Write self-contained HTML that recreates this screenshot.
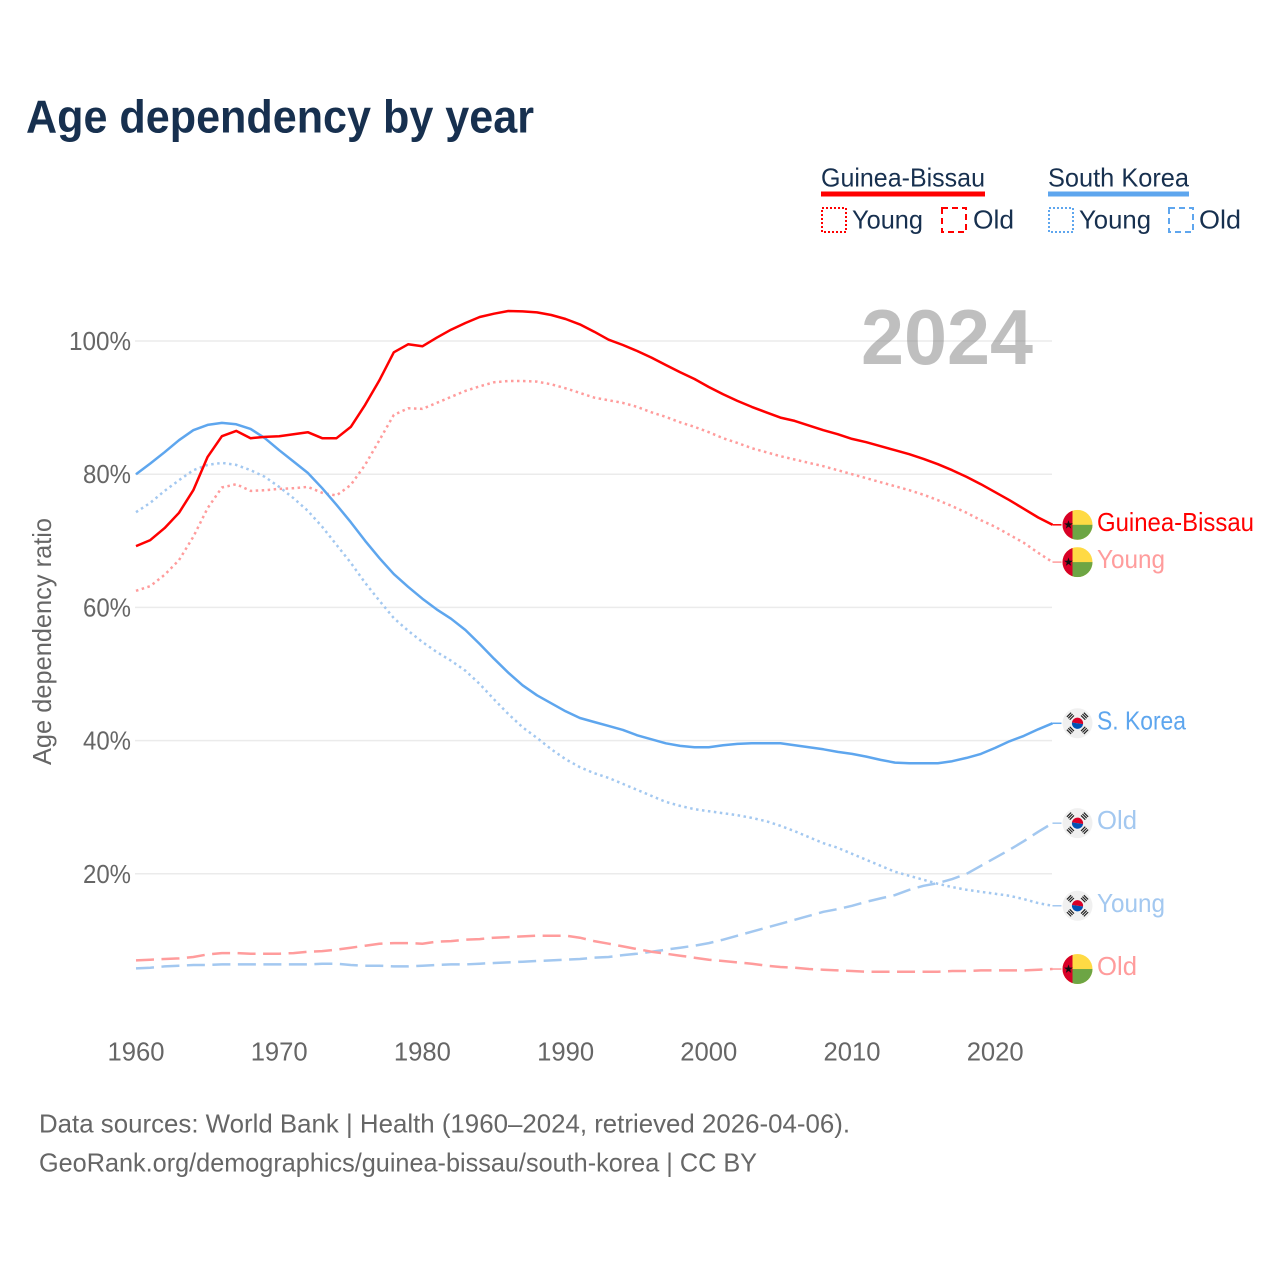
<!DOCTYPE html>
<html lang="en">
<head>
<meta charset="utf-8">
<title>Age dependency by year</title>
<style>
html,body{margin:0;padding:0;background:#fff;}
svg{display:block;font-family:"Liberation Sans",sans-serif;}
</style>
</head>
<body>
<svg id="chart" xmlns="http://www.w3.org/2000/svg" width="1280" height="1280" viewBox="0 0 1280 1280">
  <defs>
    <clipPath id="flag-clip"><circle cx="0" cy="0" r="15"/></clipPath>
    <g id="flag-gb">
      <g clip-path="url(#flag-clip)">
        <rect x="-15" y="-15" width="30" height="30" fill="#ffda44"/>
        <rect x="-5" y="0" width="20" height="15" fill="#6da544"/>
        <rect x="-15" y="-15" width="10" height="30" fill="#d80027"/>
      </g>
      <polygon points="-9,-4.6 -7.9,-1.4 -4.6,-1.4 -7.3,0.6 -6.3,3.8 -9,1.8 -11.7,3.8 -10.7,0.6 -13.4,-1.4 -10.1,-1.4" fill="#111"/>
    </g>
    <g id="trigram"><rect x="-3" y="-12.6" width="6" height="1.2"/><rect x="-3" y="-10.6" width="6" height="1.2"/><rect x="-3" y="-8.6" width="6" height="1.2"/></g>
    <g id="flag-kr">
      <circle r="15" fill="#f0f0f0"/>
      <g transform="rotate(8)">
        <path d="M-5.6,0A5.6,5.6 0 0 1 5.6,0Z" fill="#d80027"/>
        <path d="M-5.6,0A5.6,5.6 0 0 0 5.6,0Z" fill="#0052b4"/>
      </g>
      <g fill="#222">
        <use href="#trigram" transform="rotate(-45)"/>
        <use href="#trigram" transform="rotate(45)"/>
        <use href="#trigram" transform="rotate(135)"/>
        <use href="#trigram" transform="rotate(225)"/>
      </g>
    </g>
  </defs>

  <rect x="0" y="0" width="1280" height="1280" fill="#ffffff"/>

  <text x="26" y="132.5" font-size="46" font-weight="700" fill="#17304f" textLength="508" lengthAdjust="spacingAndGlyphs">Age dependency by year</text>

  <g font-size="26" fill="#17304f">
    <text x="821" y="186.5" textLength="164" lengthAdjust="spacingAndGlyphs">Guinea-Bissau</text>
    <rect x="821" y="191.5" width="164" height="5" fill="#ff0000"/>
    <rect x="822" y="208" width="24" height="24" fill="none" stroke="#ff0000" stroke-width="2" stroke-dasharray="2 2"/>
    <text x="852" y="228.5" textLength="71" lengthAdjust="spacingAndGlyphs">Young</text>
    <rect x="942" y="208" width="24" height="24" fill="none" stroke="#ff0000" stroke-width="2" stroke-dasharray="6 4"/>
    <text x="973" y="228.5" textLength="41" lengthAdjust="spacingAndGlyphs">Old</text>
    <text x="1048" y="186.5" textLength="141" lengthAdjust="spacingAndGlyphs">South Korea</text>
    <rect x="1048" y="191.5" width="141" height="5" fill="#5ea6ee"/>
    <rect x="1049" y="208" width="24" height="24" fill="none" stroke="#5ea6ee" stroke-width="2" stroke-dasharray="2 2"/>
    <text x="1079" y="228.5" textLength="72" lengthAdjust="spacingAndGlyphs">Young</text>
    <rect x="1169" y="208" width="24" height="24" fill="none" stroke="#5ea6ee" stroke-width="2" stroke-dasharray="6 4"/>
    <text x="1199" y="228.5" textLength="42" lengthAdjust="spacingAndGlyphs">Old</text>
  </g>

  <g id="grid"></g>
  <text x="861" y="364" font-size="78" font-weight="700" fill="#808080" fill-opacity="0.5" textLength="172" lengthAdjust="spacingAndGlyphs">2024</text>
  <g id="y-axis"></g>
  <g id="x-axis"></g>
  <text transform="translate(51,765) rotate(-90)" font-size="26" fill="#666666" textLength="247" lengthAdjust="spacingAndGlyphs">Age dependency ratio</text>
  <g id="series"></g>
  <g id="end-labels"></g>

  <g font-size="26" fill="#666666">
    <text x="39" y="1132.5" textLength="811" lengthAdjust="spacingAndGlyphs">Data sources: World Bank | Health (1960–2024, retrieved 2026-04-06).</text>
    <text x="39" y="1171.5" textLength="718" lengthAdjust="spacingAndGlyphs">GeoRank.org/demographics/guinea-bissau/south-korea | CC BY</text>
  </g>
</svg>

<script>
const years = [1960,1961,1962,1963,1964,1965,1966,1967,1968,1969,1970,1971,1972,1973,1974,1975,1976,1977,1978,1979,1980,1981,1982,1983,1984,1985,1986,1987,1988,1989,1990,1991,1992,1993,1994,1995,1996,1997,1998,1999,2000,2001,2002,2003,2004,2005,2006,2007,2008,2009,2010,2011,2012,2013,2014,2015,2016,2017,2018,2019,2020,2021,2022,2023,2024];

const gbTotal = [69.2,70.1,71.9,74.2,77.6,82.6,85.7,86.5,85.4,85.6,85.7,86.0,86.3,85.4,85.4,87.1,90.4,94.1,98.3,99.5,99.2,100.5,101.7,102.7,103.6,104.1,104.5,104.45,104.3,103.9,103.3,102.5,101.4,100.2,99.4,98.5,97.5,96.4,95.3,94.3,93.1,92.0,91.0,90.1,89.3,88.5,88.0,87.3,86.6,86.0,85.3,84.8,84.2,83.6,83.0,82.3,81.5,80.6,79.6,78.5,77.3,76.1,74.8,73.5,72.4];
const gbYoung = [62.5,63.2,64.9,67.1,70.6,74.9,78.0,78.5,77.5,77.6,77.8,77.9,78.1,77.2,76.8,78.4,81.4,85.1,88.9,89.9,89.8,90.7,91.6,92.5,93.2,93.8,94.0,94.0,93.9,93.5,92.9,92.2,91.5,91.1,90.7,90.1,89.3,88.6,87.8,87.1,86.3,85.4,84.7,83.9,83.3,82.7,82.2,81.7,81.2,80.6,80.0,79.4,78.8,78.2,77.6,76.9,76.1,75.2,74.2,73.1,72.1,70.9,69.7,68.2,66.8];
const gbOld = [7.0,7.1,7.2,7.3,7.5,7.9,8.1,8.1,8.0,8.0,8.0,8.1,8.3,8.4,8.6,8.9,9.2,9.5,9.6,9.6,9.5,9.8,9.9,10.1,10.2,10.4,10.5,10.6,10.7,10.7,10.7,10.4,9.9,9.5,9.1,8.7,8.3,8.0,7.7,7.4,7.1,6.9,6.7,6.5,6.2,6.0,5.9,5.7,5.6,5.5,5.4,5.3,5.3,5.3,5.3,5.3,5.3,5.4,5.4,5.5,5.5,5.5,5.5,5.6,5.7];
const krTotal = [80.0,81.6,83.3,85.1,86.6,87.4,87.7,87.5,86.8,85.4,83.6,81.9,80.2,77.9,75.4,72.8,70.0,67.4,65.0,63.1,61.3,59.7,58.3,56.6,54.5,52.3,50.2,48.3,46.8,45.6,44.4,43.4,42.8,42.2,41.6,40.8,40.2,39.6,39.2,39.0,39.0,39.3,39.5,39.6,39.6,39.6,39.3,39.0,38.7,38.3,38.0,37.6,37.1,36.7,36.6,36.6,36.6,36.9,37.4,38.0,38.9,39.9,40.7,41.7,42.6];
const krYoung = [74.3,75.7,77.5,79.1,80.6,81.4,81.7,81.4,80.6,79.6,78.1,76.4,74.5,72.1,69.4,66.7,63.7,61.0,58.4,56.5,54.8,53.3,52.0,50.5,48.5,46.2,44.0,42.0,40.4,38.7,37.2,36.0,35.1,34.4,33.5,32.6,31.7,30.8,30.2,29.7,29.4,29.1,28.8,28.4,27.9,27.2,26.4,25.5,24.6,23.9,23.0,22.1,21.2,20.3,19.7,19.1,18.5,18.0,17.6,17.3,17.0,16.7,16.2,15.6,15.2];
const krOld = [5.8,5.9,6.1,6.2,6.3,6.3,6.4,6.4,6.4,6.4,6.4,6.4,6.4,6.5,6.5,6.3,6.2,6.2,6.1,6.1,6.2,6.3,6.4,6.4,6.5,6.6,6.7,6.8,6.9,7.0,7.1,7.2,7.4,7.5,7.8,8.0,8.3,8.6,8.9,9.2,9.6,10.1,10.7,11.3,11.9,12.5,13.1,13.7,14.3,14.7,15.2,15.8,16.3,16.8,17.6,18.2,18.6,19.2,20.0,21.2,22.4,23.6,24.9,26.3,27.6];

const xTickYears = [1960,1970,1980,1990,2000,2010,2020];
const yTickValues = [20,40,60,80,100];

const NS = 'http://www.w3.org/2000/svg';
const xScale = function (year) { return 136 + (year - 1960) * 14.32; };
const yScale = function (pct) { return 1007 - pct * 6.66; };

function make(tag, parent, attrs) {
  const el = document.createElementNS(NS, tag);
  Object.keys(attrs).forEach(function (k) { el.setAttribute(k, attrs[k]); });
  parent.appendChild(el);
  return el;
}

const gridGroup = document.getElementById('grid');
const yAxisGroup = document.getElementById('y-axis');
const xAxisGroup = document.getElementById('x-axis');
const seriesGroup = document.getElementById('series');
const labelGroup = document.getElementById('end-labels');

yTickValues.forEach(function (v) {
  const line = make('line', gridGroup, {x1: 135, x2: 1052, y1: yScale(v), y2: yScale(v), stroke: '#ebebeb', 'stroke-width': 1.5});
  
  
  const tick = make('text', yAxisGroup, {x: 131, y: yScale(v) + 9, 'text-anchor': 'end', 'font-size': 26, fill: '#666666', textLength: v >= 100 ? 62 : 48, lengthAdjust: 'spacingAndGlyphs'});
  
  
  tick.textContent = v + '%';
});

xTickYears.forEach(function (yr) {
  const tick = make('text', xAxisGroup, {x: xScale(yr), y: 1060.5, 'text-anchor': 'middle', 'font-size': 26, fill: '#666666', textLength: 57, lengthAdjust: 'spacingAndGlyphs'});
  
  
  tick.textContent = String(yr);
});

const DOT = '2.5 3.5';
const DASH = '18 7.5';
const seriesList = [
  {id: 'south-korea-old', values: krOld, color: '#a3c8f0', dash: DASH, flag: '#flag-kr', label: 'Old', w: 40},
  {id: 'guinea-bissau-old', values: gbOld, color: '#ff9c9c', dash: DASH, flag: '#flag-gb', label: 'Old', w: 40},
  {id: 'south-korea-young', values: krYoung, color: '#a3c8f0', dash: DOT, flag: '#flag-kr', label: 'Young', w: 68},
  {id: 'guinea-bissau-young', values: gbYoung, color: '#ff9c9c', dash: DOT, flag: '#flag-gb', label: 'Young', w: 68},
  {id: 'south-korea-total', values: krTotal, color: '#5ea6ee', dash: '', flag: '#flag-kr', label: 'S. Korea', w: 89},
  {id: 'guinea-bissau-total', values: gbTotal, color: '#ff0000', dash: '', flag: '#flag-gb', label: 'Guinea-Bissau', w: 157}
];

seriesList.forEach(function (s) {
  const pts = s.values.map(function (v, i) { return xScale(years[i]).toFixed(1) + ',' + yScale(v).toFixed(1); }).join(' ');
  const line = make('polyline', seriesGroup, {points: pts, fill: 'none', stroke: s.color, 'stroke-width': 2.5, 'stroke-linejoin': 'round'});
  if (s.dash) { line.setAttribute('stroke-dasharray', s.dash); }
  
  

  const endY = yScale(s.values[s.values.length - 1]);
  const endX = xScale(years[years.length - 1]);
  const connector = make('line', labelGroup, {x1: endX, x2: endX + 9, y1: endY, y2: endY, stroke: s.color, 'stroke-width': 1.5});
  
  

  const flag = make('use', labelGroup, {href: s.flag, x: 1077.5, y: endY});
  
  

  const text = make('text', labelGroup, {x: 1097, y: endY + 6, 'font-size': 26, fill: s.color, textLength: s.w, lengthAdjust: 'spacingAndGlyphs'});
  
  
  text.textContent = s.label;
});
</script>
</body>
</html>
